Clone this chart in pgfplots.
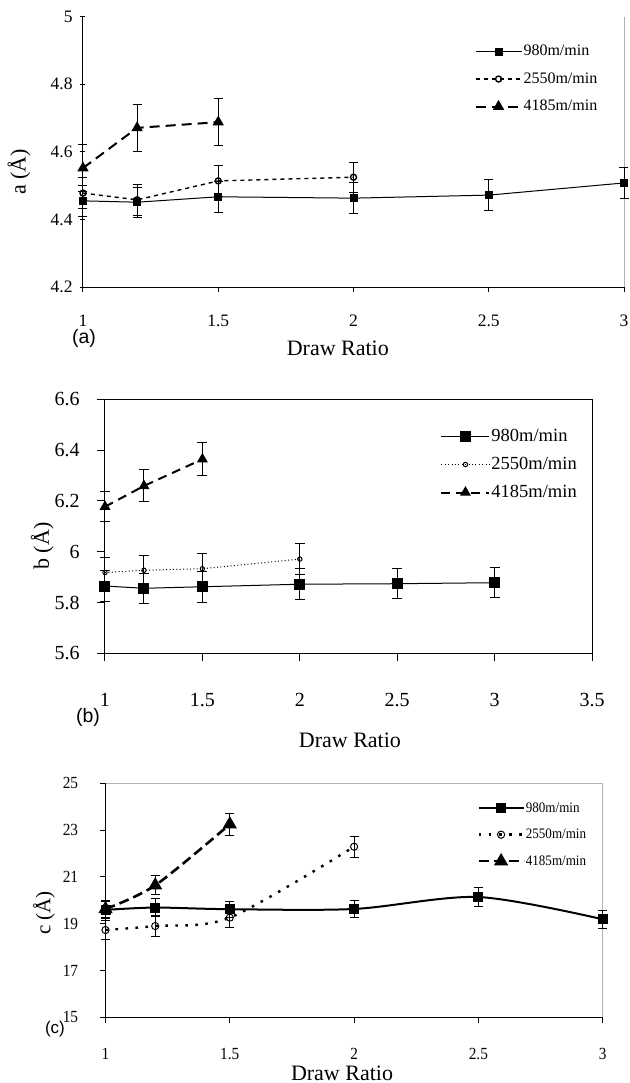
\documentclass[border=0pt]{standalone}
\usepackage{fontspec}
\setmainfont{Liberation Serif}
\newfontfamily\labsans{Liberation Sans}
\newfontfamily\condserif[FakeStretch=0.9]{Liberation Serif}
\usepackage{pgfplots}
\pgfplotsset{compat=1.18}
\pgfplotsset{
  panel/.style={scale only axis, clip=false,
    /pgf/number format/assume math mode=true,
    axis line style={line width=0.5pt, black},
    every tick/.style={black, line width=0.5pt},
    legend cell align=left},
  legimg/.style={legend image code/.code={\draw[mark repeat=2,mark phase=2,##1] plot coordinates {(0pt,0pt) (#1/2,0pt) (#1,0pt)};}},
  err/.style={error bars/.cd, y dir=both, y explicit,
    error bar style={solid, line width=0.5pt, black},
    error mark options={rotate=90, solid, black, line width=0.5pt, mark size=#1}},
}
\begin{document}
\begin{tikzpicture}
\path[use as bounding box] (0pt,0pt) rectangle (314.5pt,-541.5pt);

% ---------------- panel (a) ----------------
\begin{axis}[panel, at={(41.5pt,-143.5pt)}, anchor=south west,
  width=270.5pt, height=135.15pt,
  axis lines*=left,
  xmin=1, xmax=3, ymin=4.2, ymax=5,
  xtick={1,1.5,2,2.5,3}, ytick={4.2,4.4,4.6,4.8,5},
  tick align=center, major tick length=2.5pt,
  xtick style={yshift=-1.25pt},
  tick label style={font=\fontsize{8.75}{10}\selectfont},
  xticklabel style={anchor=center, yshift=-15.5pt},
  yticklabel style={anchor=east, inner sep=0pt, xshift=-3.75pt},
  xlabel={Draw Ratio}, ylabel={a (Å)},
  label style={font=\fontsize{11}{13}\selectfont},
  xlabel style={at={(rel axis cs:0.471,-0.2257)}, anchor=center},
  ylabel style={at={(rel axis cs:-0.1183,0.4255)}, anchor=center},
  legimg=23pt,
  legend style={draw=none, fill=none, inner sep=0pt, at={(0.723,0.906)}, anchor=north west,
    font=\fontsize{8}{9}\selectfont, row sep=4.75pt,
    nodes={inner sep=0.5pt, text height=6pt, text depth=2pt}},
]
\draw[gray!60, line width=0.5pt] (rel axis cs:1,1) -- (rel axis cs:1,0);
\addplot[black, line width=0.5pt, mark=square*, mark size=1.75pt, mark options={solid}, err=2.25pt]
  coordinates {(1,4.455) +- (0,0.045) (1.2,4.451) +- (0,0.045) (1.5,4.467) +- (0,0.045)
    (2,4.463) +- (0,0.045) (2.5,4.472) +- (0,0.045) (3,4.508) +- (0,0.045)};
\addlegendentry{980m/min}
\addplot[black, line width=0.7pt, dash pattern=on 2pt off 2pt, mark=o, mark size=1.5pt, mark options={solid, fill=white}, err=2.25pt]
  coordinates {(1,4.478) +- (0,0.045) (1.2,4.458) +- (0,0.045) (1.5,4.514) +- (0,0.045) (2,4.525) +- (0,0.045)};
\addlegendentry{2550m/min}
\addplot[black, line width=1pt, dash pattern=on 5pt off 3pt, mark=triangle*, mark size=2.3pt, mark options={solid}, err=2.25pt]
  coordinates {(1,4.552) +- (0,0.07) (1.2,4.671) +- (0,0.07) (1.5,4.688) +- (0,0.07)};
\addlegendentry{4185m/min}
\end{axis}
\node[font=\labsans\fontsize{9.75}{11}\selectfont] at (42pt,-169pt) {(a)};

% ---------------- panel (b) ----------------
\begin{axis}[panel, at={(52.5pt,-326.65pt)}, anchor=south west,
  width=243.5pt, height=127pt,
  xmin=1, xmax=3.5, ymin=5.6, ymax=6.6,
  xtick={1,1.5,2,2.5,3,3.5}, ytick={5.6,5.8,6,6.2,6.4,6.6},
  tick align=outside, tick pos=left, major tick length=4pt,
  tick label style={font=\fontsize{10}{12}\selectfont},
  xticklabel style={anchor=center, yshift=-19.2pt},
  yticklabel style={anchor=east, inner sep=0pt, xshift=-8.5pt},
  xlabel={Draw Ratio}, ylabel={b (Å)},
  label style={font=\fontsize{11}{13}\selectfont},
  xlabel style={at={(rel axis cs:0.503,-0.341)}, anchor=center},
  ylabel style={at={(rel axis cs:-0.129,0.4224)}, anchor=center},
  legimg=24pt,
  legend style={draw=none, fill=none, inner sep=0pt, at={(0.688,0.8925)}, anchor=north west,
    font=\fontsize{9.25}{10}\selectfont, row sep=4.5pt,
    nodes={inner sep=0.5pt, text height=6.5pt, text depth=2pt}},
]
\addplot[black, line width=0.5pt, mark=square*, mark size=2.5pt, mark options={solid}, err=2.5pt]
  coordinates {(1,5.865) +- (0,0.06) (1.2,5.856) +- (0,0.06) (1.5,5.862) +- (0,0.06)
    (2,5.872) +- (0,0.06) (2.5,5.874) +- (0,0.06) (3,5.878) +- (0,0.06)};
\addlegendentry{980m/min}
\addplot[black, line width=0.5pt, dash pattern=on 0.5pt off 1.2pt, mark=o, mark size=1.1pt, mark options={solid, fill=white}, err=2.5pt]
  coordinates {(1,5.918) +- (0,0.06) (1.2,5.927) +- (0,0.06) (1.5,5.933) +- (0,0.06) (2,5.971) +- (0,0.06)};
\addlegendentry{2550m/min}
\addplot[black, line width=1pt, dash pattern=on 4.5pt off 3pt, mark=triangle*, mark size=2.2pt, mark options={solid}, err=2.5pt]
  coordinates {(1,6.177) +- (0,0.06) (1.2,6.259) +- (0,0.063) (1.5,6.364) +- (0,0.065)};
\addlegendentry{4185m/min}
\end{axis}
\node[font=\labsans\fontsize{9.75}{11}\selectfont] at (44pt,-358.5pt) {(b)};

% ---------------- panel (c) ----------------
\begin{axis}[panel, at={(52.75pt,-508.65pt)}, anchor=south west,
  width=248.6pt, height=117pt,
  axis lines*=left,
  xmin=1, xmax=3, ymin=15, ymax=25,
  xtick={1,1.5,2,2.5,3}, ytick={15,17,19,21,23,25},
  tick align=outside, major tick length=3pt,
  tick label style={font=\condserif\fontsize{8.5}{10}\selectfont},
  xticklabel style={anchor=center, yshift=-15.5pt},
  yticklabel style={anchor=east, inner sep=0pt, xshift=-10.5pt},
  xlabel={Draw Ratio}, ylabel={c (Å)},
  label style={font=\fontsize{11}{13}\selectfont},
  ylabel style={font=\fontsize{10.5}{12}\selectfont, at={(rel axis cs:-0.1237,0.4457)}, anchor=center},
  xlabel style={at={(rel axis cs:0.4757,-0.238)}, anchor=center},
  legimg=22.5pt,
  legend style={draw=none, fill=none, inner sep=0pt, at={(0.747,0.9296)}, anchor=north west,
    font=\condserif\fontsize{7.25}{8}\selectfont, row sep=5.25pt,
    nodes={inner sep=0.5pt, text height=5.5pt, text depth=1.5pt}},
]
\draw[gray!60, line width=0.5pt] (rel axis cs:0,1) -- (rel axis cs:1,1) -- (rel axis cs:1,0);
\addplot[black, line width=1pt, smooth, mark=square*, mark size=2pt, mark options={solid}, err=2.25pt]
  coordinates {(1,19.59) +- (0,0.35) (1.2,19.69) +- (0,0.38) (1.5,19.62) +- (0,0.35)
    (2,19.63) +- (0,0.38) (2.5,20.14) +- (0,0.4) (3,19.19) +- (0,0.38)};
\addlegendentry{980m/min}
\addplot[black, line width=1.2pt, smooth, dash pattern=on 1.3pt off 3.7pt, mark=o, mark size=1.8pt, mark options={solid, fill=white, line width=0.5pt}, err=2.25pt]
  coordinates {(1,18.73) +- (0,0.4) (1.2,18.90) +- (0,0.45) (1.5,19.26) +- (0,0.42) (2,22.29) +- (0,0.44)};
\addlegendentry{2550m/min}
\addplot[black, line width=1.3pt, smooth, dash pattern=on 5pt off 2.5pt, mark=triangle*, mark size=2.8pt, mark options={solid}, err=2.25pt]
  coordinates {(1,19.63) +- (0,0.35) (1.2,20.64) +- (0,0.4) (1.5,23.25) +- (0,0.47)};
\addlegendentry{4185m/min}
\end{axis}
\node[font=\labsans\fontsize{8.5}{10}\selectfont] at (27.5pt,-514.5pt) {(c)};
\end{tikzpicture}
\end{document}
